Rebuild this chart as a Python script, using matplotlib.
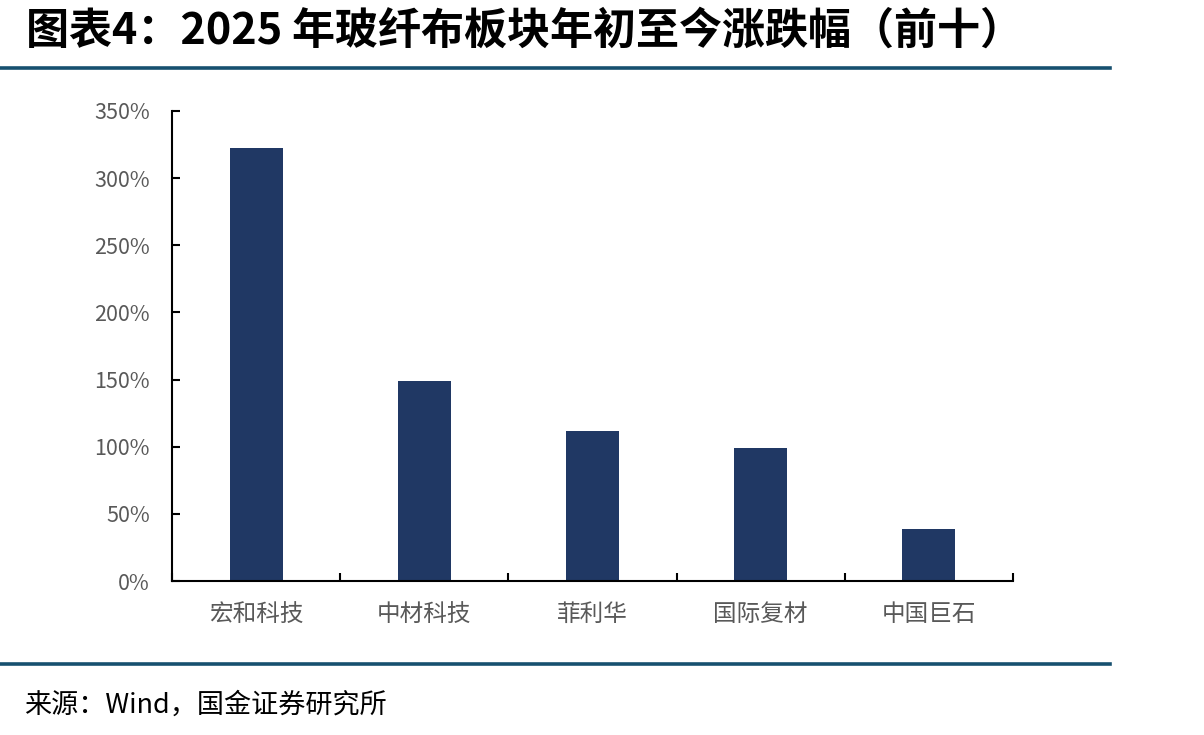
import matplotlib
matplotlib.use("Agg")
import matplotlib.pyplot as plt
from matplotlib.ticker import PercentFormatter

plt.rcParams['font.family'] = ['Noto Sans CJK SC', 'DejaVu Sans']

# data
companies = ['宏和科技', '中材科技', '菲利华', '国际复材', '中国巨石']
change_pct = [322.4, 148.9, 111.7, 99.0, 38.7]
y_ticks = [0, 50, 100, 150, 200, 250, 300, 350]

bar_color = '#203864'
line_color = '#17506f'

fig = plt.figure(figsize=(12.04, 7.35), dpi=100)
ax = fig.add_axes([0.1429, 0.2095, 0.6985, 0.6395])

x = list(range(len(companies)))
ax.bar(x, change_pct, width=0.315, color=bar_color)

ax.set_xlim(-0.5, len(companies) - 0.5)
ax.set_ylim(0, 350)
ax.set_yticks(y_ticks)
ax.yaxis.set_major_formatter(PercentFormatter(decimals=0))

# ticks at category boundaries, labels centred under bars
ax.set_xticks([i - 0.5 for i in range(len(companies) + 1)])
ax.set_xticklabels([])
ax.set_xticks(x, minor=True)
ax.set_xticklabels(companies, minor=True)
ax.tick_params(axis='x', which='minor', length=0, pad=16, labelsize=17, labelcolor='#595959')
ax.tick_params(axis='x', which='major', direction='in', length=6, width=1.5)
ax.tick_params(axis='y', direction='in', length=6, width=1.5, pad=16, labelsize=15.5, labelcolor='#595959')

for s in ['top', 'right']:
    ax.spines[s].set_visible(False)
for s in ['left', 'bottom']:
    ax.spines[s].set_linewidth(1.5)
    ax.spines[s].set_color('black')

fig.text(0.022, 0.958, '图表4：2025 年玻纤布板块年初至今涨跌幅（前十）', fontsize=31,
         fontweight='bold', fontstyle='italic', va='center', ha='left')
fig.add_artist(plt.Line2D([0, 0.922], [0.907, 0.907], color=line_color, lw=2.6,
                          transform=fig.transFigure))
fig.add_artist(plt.Line2D([0, 0.922], [0.096, 0.096], color=line_color, lw=2.6,
                          transform=fig.transFigure))
fig.text(0.02, 0.04, '来源：Wind，国金证券研究所', fontsize=19.5, va='center', ha='left')

fig.savefig('out.png', dpi=100)
